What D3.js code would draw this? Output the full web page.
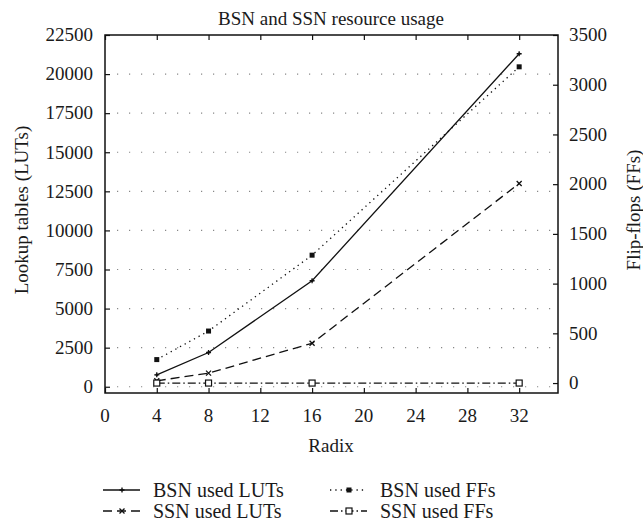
<!DOCTYPE html>
<html><head><meta charset="utf-8">
<script src="https://cdn.jsdelivr.net/npm/d3@7"></script>
<style>
body{margin:0;background:#fff;}
svg{display:block;}
text{font-family:"Liberation Serif","Times New Roman",serif;fill:#1a1a1a;}
</style></head>
<body>
<svg id="chart" width="643" height="523"></svg>
<script>
// ---- data ----
const radix = [4, 8, 16, 32];
const bsnLUTs = [760, 2190, 6780, 21300];
const ssnLUTs = [380, 870, 2780, 13000];
const bsnFFs = [236, 523, 1286, 3180];
const ssnFFs = [0, 0, 0, 0];
const xTicks = [0, 4, 8, 12, 16, 20, 24, 28, 32];
const leftTicks = [0, 2500, 5000, 7500, 10000, 12500, 15000, 17500, 20000, 22500];
const rightTicks = [0, 500, 1000, 1500, 2000, 2500, 3000, 3500];
const legendLabels = ["BSN used LUTs", "BSN used FFs", "SSN used LUTs", "SSN used FFs"];

const svg = d3.select("#chart");
const L = 105, R = 558, T = 35, B = 393;
const x = d3.scaleLinear().domain([0, 35]).range([L, R]);
const yL = d3.scaleLinear().domain([-400, 22500]).range([B, T]);
const yR = d3.scaleLinear().domain([-100, 3500]).range([B, T]);
const FS = 19;

// grid
svg.append("g").selectAll("line").data(leftTicks.filter(d => d < 22500)).join("line")
  .attr("x1", L + 12).attr("x2", R).attr("y1", d => yL(d)).attr("y2", d => yL(d))
  .attr("stroke", "#888").attr("stroke-width", 1.2).attr("stroke-dasharray", "1.2,10.8");

// axes (inward ticks)
const ax = (g, axis) => { g.call(axis); g.select(".domain").remove(); g.selectAll("text").remove(); g.selectAll("line").attr("stroke", "#111").attr("stroke-width", 1.2); };
svg.append("g").attr("transform", `translate(0,${B})`).call(g => ax(g, d3.axisBottom(x).tickValues(xTicks).tickSize(-5)));
svg.append("g").attr("transform", `translate(0,${T})`).call(g => ax(g, d3.axisTop(x).tickValues(xTicks).tickSize(-5)));
svg.append("g").attr("transform", `translate(${L},0)`).call(g => ax(g, d3.axisLeft(yL).tickValues(leftTicks).tickSize(-5)));
svg.append("g").attr("transform", `translate(${R},0)`).call(g => ax(g, d3.axisRight(yR).tickValues(rightTicks).tickSize(-5)));

svg.append("rect").attr("x", L).attr("y", T).attr("width", R - L).attr("height", B - T)
  .attr("fill", "none").attr("stroke", "#111").attr("stroke-width", 1.5);

// tick labels
svg.append("g").selectAll("text").data(xTicks).join("text")
  .attr("x", d => x(d)).attr("y", 422).attr("text-anchor", "middle").attr("font-size", FS).text(d => d);
svg.append("g").selectAll("text").data(leftTicks).join("text")
  .attr("x", 93).attr("y", d => yL(d)).attr("dy", "0.33em").attr("text-anchor", "end").attr("font-size", FS).text(d => d);
svg.append("g").selectAll("text").data(rightTicks).join("text")
  .attr("x", 569).attr("y", d => yR(d)).attr("dy", "0.33em").attr("text-anchor", "start").attr("font-size", FS).text(d => d);

// titles
svg.append("text").attr("x", 331).attr("y", 25).attr("text-anchor", "middle").attr("font-size", FS).text("BSN and SSN resource usage");
svg.append("text").attr("x", 331).attr("y", 452).attr("text-anchor", "middle").attr("font-size", FS).text("Radix");
svg.append("text").attr("transform", "translate(28,210) rotate(-90)").attr("text-anchor", "middle").attr("font-size", FS).text("Lookup tables (LUTs)");
svg.append("text").attr("transform", "translate(640,210) rotate(-90)").attr("text-anchor", "middle").attr("font-size", FS).text("Flip-flops (FFs)");

// series
const series = [
  {vals: bsnLUTs, y: yL, dash: null, marker: "plus"},
  {vals: bsnFFs, y: yR, dash: "1.3,4", marker: "fsq"},
  {vals: ssnLUTs, y: yL, dash: "9,5", marker: "cross"},
  {vals: ssnFFs, y: yR, dash: "8,3,1.5,3", marker: "osq"}
];
function drawMarker(g, type, cx, cy) {
  if (type === "plus") {
    g.append("path").attr("d", `M${cx-2.5},${cy}H${cx+2.5}M${cx},${cy-2.5}V${cy+2.5}`).attr("stroke", "#111").attr("stroke-width", 1.3);
    g.append("circle").attr("cx", cx).attr("cy", cy).attr("r", 1.3).attr("fill", "#111");
  } else if (type === "cross") {
    g.append("path").attr("d", `M${cx-2.5},${cy-2.5}L${cx+2.5},${cy+2.5}M${cx-2.5},${cy+2.5}L${cx+2.5},${cy-2.5}`).attr("stroke", "#111").attr("stroke-width", 1.3);
  } else if (type === "fsq") {
    g.append("rect").attr("x", cx - 2.5).attr("y", cy - 2.5).attr("width", 5).attr("height", 5).attr("fill", "#111");
  } else {
    g.append("rect").attr("x", cx - 3).attr("y", cy - 3).attr("width", 6).attr("height", 6).attr("fill", "#fff").attr("stroke", "#111").attr("stroke-width", 1.2);
  }
}
series.forEach(s => {
  const line = d3.line().x((d, i) => x(radix[i])).y(d => s.y(d));
  svg.append("path").datum(s.vals).attr("d", line).attr("fill", "none").attr("stroke", "#111")
    .attr("stroke-width", 1.3).attr("stroke-dasharray", s.dash);
  const g = svg.append("g");
  s.vals.forEach((v, i) => drawMarker(g, s.marker, x(radix[i]), s.y(v)));
});

// legend
const legPos = [[103, 490], [330, 490], [103, 511], [330, 511]];
series.forEach((s, i) => {
  const [lx, ly] = legPos[i];
  svg.append("line").attr("x1", lx).attr("x2", lx + 37).attr("y1", ly).attr("y2", ly)
    .attr("stroke", "#111").attr("stroke-width", 1.3).attr("stroke-dasharray", s.dash);
  drawMarker(svg.append("g"), s.marker, lx + 19, ly);
  svg.append("text").attr("x", i % 2 === 0 ? 153 : 380).attr("y", ly).attr("dy", "0.33em").attr("font-size", 20).text(legendLabels[i]);
});
</script>
</body></html>
